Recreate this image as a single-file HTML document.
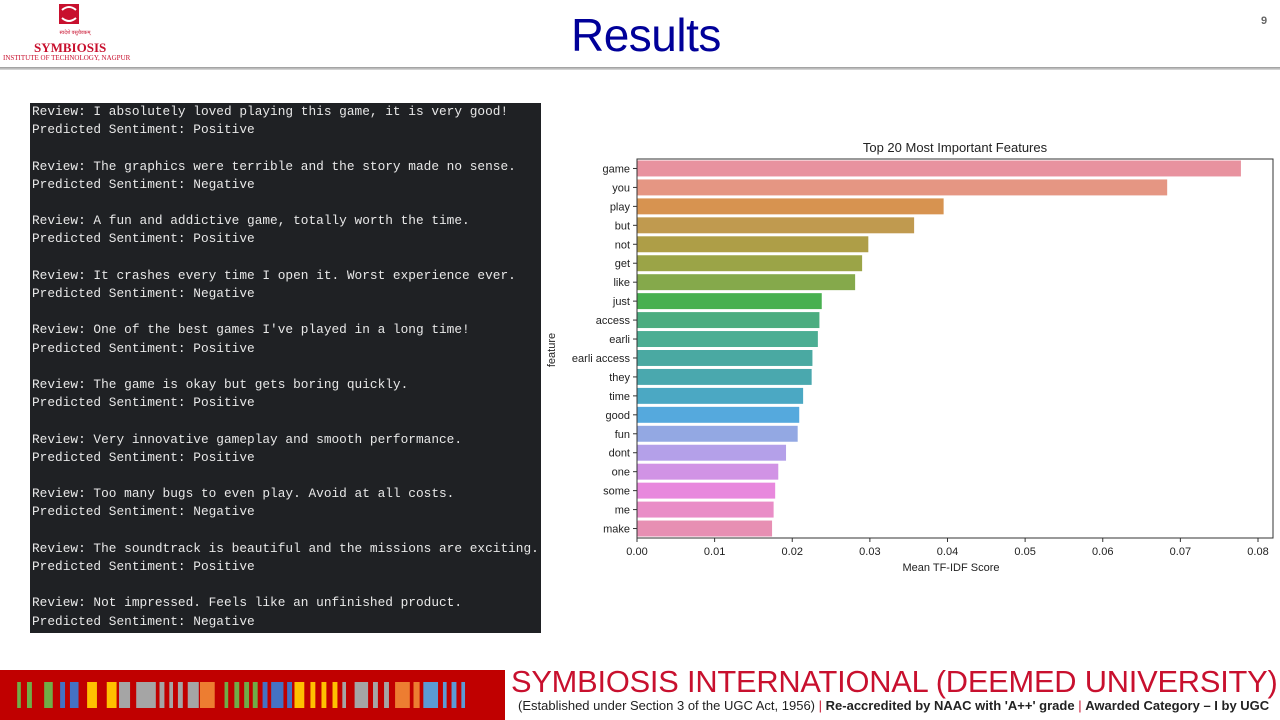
<!DOCTYPE html>
<html><head><meta charset="utf-8">
<style>
body{margin:0;width:1280px;height:720px;position:relative;overflow:hidden;background:#fff;font-family:"Liberation Sans",sans-serif}
.abs{position:absolute}
#term{left:30px;top:103px;width:511px;height:530px;background:#1f2124;color:#e8e8e8;font-family:"Liberation Mono",monospace;font-size:12.8px;line-height:18.2px;white-space:pre;padding-top:0}
#term div{padding-left:2px}
</style></head><body>
<div class="abs" style="left:0;top:0;width:150px;height:66px">
<svg width="150" height="66"><rect x="59" y="4" width="20" height="20" fill="#c8102e"/><path d="M62 10 Q69 4 76 10 M62 18 Q69 24 76 18" stroke="#fff" stroke-width="2" fill="none"/><text x="75" y="34" font-size="5" fill="#c8102e" text-anchor="middle">स्वदेशे वसुधैवकम्</text></svg>
<div class="abs" style="left:34px;top:40px;font-family:'Liberation Serif',serif;font-weight:bold;font-size:13px;color:#c8102e">SYMBIOSIS</div>
<div class="abs" style="left:3px;top:54px;font-family:'Liberation Serif',serif;font-size:7px;color:#c8102e;white-space:nowrap">INSTITUTE OF TECHNOLOGY, NAGPUR</div>
</div>
<div class="abs" style="left:571px;top:8px;font-size:46px;color:#000099;letter-spacing:-0.5px">Results</div>
<div class="abs" style="left:1261px;top:15px;font-size:11px;color:#666;font-weight:bold">9</div>
<div class="abs" style="left:0;top:67px;width:1280px;height:3px;background:linear-gradient(#999,#ddd)"></div>

<div id="term" class="abs"><div>Review: I absolutely loved playing this game, it is very good!
Predicted Sentiment: Positive

Review: The graphics were terrible and the story made no sense.
Predicted Sentiment: Negative

Review: A fun and addictive game, totally worth the time.
Predicted Sentiment: Positive

Review: It crashes every time I open it. Worst experience ever.
Predicted Sentiment: Negative

Review: One of the best games I've played in a long time!
Predicted Sentiment: Positive

Review: The game is okay but gets boring quickly.
Predicted Sentiment: Positive

Review: Very innovative gameplay and smooth performance.
Predicted Sentiment: Positive

Review: Too many bugs to even play. Avoid at all costs.
Predicted Sentiment: Negative

Review: The soundtrack is beautiful and the missions are exciting.
Predicted Sentiment: Positive

Review: Not impressed. Feels like an unfinished product.
Predicted Sentiment: Negative</div></div>

<svg id="chart" class="abs" style="left:0;top:0" width="1280" height="720"></svg>

<div class="abs" style="left:0;top:670px;width:505px;height:50px;background:#c00000"></div>
<svg id="barcode" class="abs" style="left:0;top:0" width="505" height="720"></svg>
<div class="abs" style="left:511px;top:664px;font-size:30.8px;color:#c8102e;white-space:nowrap;letter-spacing:-0.2px">SYMBIOSIS INTERNATIONAL (DEEMED UNIVERSITY)</div>
<div class="abs" style="left:518px;top:698px;font-size:13px;color:#222;white-space:nowrap">(Established under Section 3 of the UGC Act, 1956) <span style="color:#c8102e">|</span> <b>Re-accredited by NAAC with 'A++' grade</b> <span style="color:#c8102e">|</span> <b>Awarded Category – I by UGC</b></div>

<script>
const features=["game","you","play","but","not","get","like","just","access","earli","earli access","they","time","good","fun","dont","one","some","me","make"];
const scores=[0.0778,0.0683,0.0395,0.0357,0.0298,0.0290,0.0281,0.0238,0.0235,0.0233,0.0226,0.0225,0.0214,0.0209,0.0207,0.0192,0.0182,0.0178,0.0176,0.0174];
const colors=["#e8929f","#e59683","#d79350","#c09a4f","#ae9e47","#9ba447","#85a94b","#48b050","#4cad80","#4cae93","#4aa9a2","#4aa8ae","#4ba8c3","#55a9dd","#93a8e3","#b4a0e9","#d193e5","#e888dd","#e98dc7","#e78fb3"];
const xTicks=[0,0.01,0.02,0.03,0.04,0.05,0.06,0.07,0.08];
const NS="http://www.w3.org/2000/svg";
const svg=document.getElementById('chart');
const L=637,R=1273,T=159,B=538;
const xs=v=>L+v*(1258-L)/0.08;
const band=(B-T)/features.length;
function mk(t,a,p){const e=document.createElementNS(NS,t);for(const k in a)e.setAttribute(k,a[k]);(p||svg).appendChild(e);return e;}
features.forEach((f,i)=>{
 const y=T+i*band;
 const r=mk('rect',{x:L,y:y+1.5,width:xs(scores[i])-L,height:band-3,fill:colors[i]});
 
 
 mk('line',{x1:L-4,x2:L,y1:y+band/2,y2:y+band/2,stroke:'#333','stroke-width':1});
 const t=mk('text',{x:L-7,y:y+band/2+4,'text-anchor':'end','font-size':11,fill:'#222'});
 t.textContent=f;
 
 
});
xTicks.forEach(v=>{
 mk('line',{x1:xs(v),x2:xs(v),y1:B,y2:B+4,stroke:'#333'});
 const t=mk('text',{x:xs(v),y:B+17,'text-anchor':'middle','font-size':11,fill:'#222'});
 t.textContent=v.toFixed(2);
 
 
});
const fr=mk('rect',{x:L,y:T,width:R-L,height:B-T,fill:'none',stroke:'#333','stroke-width':1});


let t=mk('text',{x:(L+R)/2+0,y:152,'text-anchor':'middle','font-size':13,fill:'#222'});t.textContent='Top 20 Most Important Features';


t=mk('text',{x:(L+R)/2-4,y:571,'text-anchor':'middle','font-size':11,fill:'#222'});t.textContent='Mean TF-IDF Score';


t=mk('text',{x:0,y:0,'text-anchor':'middle','font-size':11,fill:'#222',transform:'translate(555,350) rotate(-90)'});t.textContent='feature';



const bc=document.getElementById('barcode');
const G='#70ad47',Bl='#4472c4',Y='#ffc000',Gr='#a5a5a5',O='#ed7d31',LB='#5b9bd5';
const bars=[[14,3,G],[22,4,G],[36,7,G],[49,4,Bl],[57,7,Bl],[71,8,Y],[87,8,Y],[97,9,Gr],[111,16,Gr],[130,4,Gr],[138,3,Gr],[145,4,Gr],[153,9,Gr],[163,12,O],[183,3,G],[191,4,G],[199,4,G],[206,4,G],[214,4,Bl],[221,10,Bl],[234,4,Bl],[240,8,Y],[253,4,Y],[262,4,Y],[271,4,Y],[279,3,Gr],[289,11,Gr],[304,4,Gr],[313,4,Gr],[322,12,O],[337,5,O],[345,12,LB],[361,3,LB],[368,4,LB],[376,3,LB]];
const S=1.227;
bars.forEach(b=>{const r=mk('rect',{x:b[0]*S,y:682,width:b[1]*S,height:26,fill:b[2]},bc);

});
</script>
</body></html>
